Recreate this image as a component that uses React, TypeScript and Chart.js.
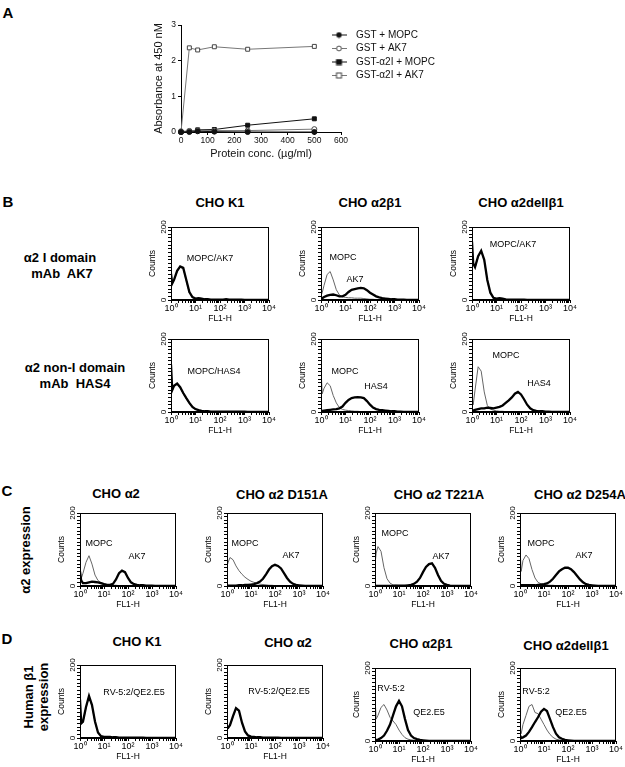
import React, { useEffect, useRef } from 'react';
import { Chart, registerables } from 'chart.js';

Chart.register(...registerables);

const FONT = '"Liberation Sans", Arial, Helvetica, sans-serif';
Chart.defaults.font.family = FONT;
Chart.defaults.color = '#000';

// ---------------- Panel A data ----------------
const A_CONC = [0, 31.25, 62.5, 125, 250, 500];
const A_GST_MOPC = [0.0, 0.0, 0.02, 0.01, 0.0, 0.0];
const A_GST_AK7 = [0.02, 0.03, 0.04, 0.04, 0.04, 0.08];
const A_GSTI_MOPC = [0.0, 0.02, 0.06, 0.07, 0.19, 0.37];
const A_GSTI_AK7 = [0.0, 2.36, 2.3, 2.39, 2.32, 2.4];
const A_SERIES_NAMES = ['GST + MOPC', 'GST + AK7', 'GST-\u03b12I + MOPC', 'GST-\u03b12I + AK7'];
const A_X_TICKS = [0, 100, 200, 300, 400, 500, 600];
const A_Y_TICKS = [0, 1, 2, 3];

// ---------------- Flow cytometry data ----------------
// FL1-H channel positions (log scale)
const FL_CHANNELS = [1, 1.12, 1.33, 1.78, 2.37, 3.16, 4.22, 5.62, 7.5, 10, 13.3, 17.8, 23.7, 31.6, 42.2, 56.2, 75, 100, 133, 178, 237, 316, 422, 562, 750, 1000, 1333, 1778, 2371, 3162, 4217, 5623, 7499, 10000];
const X_DECADES = [1, 10, 100, 1000, 10000];
const X_DECADE_LABELS = ['10\u2070', '10\u00b9', '10\u00b2', '10\u00b3', '10\u2074'];
const X_MINOR_STEPS = [2, 3, 4, 5, 6, 7, 8, 9];
const COUNT_TICKS = [0, 10, 20, 30, 40, 50, 60, 70, 80, 90, 100, 110, 120, 130, 140, 150, 160, 170, 180, 190, 200];
const COUNT_LABELS: Record<number, string> = { 0: '0', 200: '200' };

// Panel B, row 1 (mAb AK7)
const B_K1_AK7 = [72, 45, 55, 80, 92, 88, 55, 22, 8, 4, 5, 4, 2, 2, 1, 1, 1, 1, 1, 2, 1, 1, 1, 1, 1, 0, 0, 0, 0, 0, 0, 0, 0, 0];
const B_K1_MOPC = [70, 44, 54, 78, 90, 86, 52, 20, 7, 4, 5, 4, 2, 1, 1, 1, 1, 1, 1, 1, 1, 1, 1, 0, 0, 0, 0, 0, 0, 0, 0, 0, 0, 0];
const B_A2B1_AK7 = [3, 5, 8, 12, 14, 15, 13, 10, 10, 14, 22, 28, 30, 32, 33, 32, 27, 20, 15, 10, 7, 5, 4, 3, 2, 2, 1, 1, 1, 0, 0, 0, 0, 0];
const B_A2B1_MOPC = [12, 20, 40, 70, 78, 55, 28, 14, 9, 7, 6, 6, 5, 5, 5, 4, 3, 2, 2, 1, 1, 0, 0, 0, 0, 0, 0, 0, 0, 0, 0, 0, 0, 0];
const B_DEL_AK7 = [160, 100, 90, 120, 135, 110, 55, 20, 6, 4, 5, 4, 2, 1, 1, 1, 1, 1, 1, 0, 0, 0, 0, 0, 0, 0, 0, 0, 0, 0, 0, 0, 0, 0];
const B_DEL_MOPC = [158, 98, 88, 118, 133, 108, 52, 18, 5, 3, 4, 3, 2, 1, 1, 1, 0, 0, 0, 0, 0, 0, 0, 0, 0, 0, 0, 0, 0, 0, 0, 0, 0, 0];
// Panel B, row 2 (mAb HAS4)
const B_K1_HAS4 = [130, 60, 72, 78, 68, 52, 38, 25, 14, 8, 5, 3, 2, 2, 1, 1, 1, 1, 1, 1, 1, 1, 1, 1, 1, 1, 0, 0, 0, 0, 0, 0, 0, 0];
const B_K1_MOPC2 = [128, 58, 70, 76, 66, 50, 36, 23, 12, 7, 4, 3, 2, 1, 1, 1, 1, 1, 0, 0, 0, 0, 0, 0, 0, 0, 0, 0, 0, 0, 0, 0, 0, 0];
const B_A2B1_HAS4 = [2, 3, 4, 5, 6, 7, 8, 10, 15, 25, 33, 38, 40, 41, 40, 38, 30, 20, 12, 8, 6, 5, 4, 3, 2, 2, 1, 1, 0, 0, 0, 0, 0, 0];
const B_A2B1_MOPC2 = [120, 50, 65, 80, 72, 45, 25, 12, 7, 5, 4, 3, 2, 2, 1, 1, 0, 0, 0, 0, 0, 0, 0, 0, 0, 0, 0, 0, 0, 0, 0, 0, 0, 0];
const B_DEL_HAS4 = [5, 4, 6, 8, 10, 10, 12, 11, 10, 12, 14, 18, 25, 32, 40, 50, 55, 48, 35, 20, 10, 5, 3, 2, 2, 1, 1, 0, 0, 0, 0, 0, 0, 0];
const B_DEL_MOPC2 = [45, 20, 60, 124, 112, 55, 18, 8, 5, 3, 2, 2, 1, 1, 0, 0, 0, 0, 0, 0, 0, 0, 0, 0, 0, 0, 0, 0, 0, 0, 0, 0, 0, 0];
// Panel C (alpha2 expression, AK7)
const C_A2_AK7 = [40, 15, 8, 8, 10, 12, 11, 10, 8, 5, 3, 3, 6, 18, 35, 42, 38, 22, 10, 5, 3, 2, 2, 1, 1, 1, 0, 0, 0, 0, 0, 0, 0, 0];
const C_A2_MOPC = [35, 20, 35, 65, 83, 60, 30, 15, 9, 6, 4, 3, 2, 2, 1, 1, 0, 0, 0, 0, 0, 0, 0, 0, 0, 0, 0, 0, 0, 0, 0, 0, 0, 0];
const C_D151A_AK7 = [2, 1, 1, 1, 1, 2, 2, 3, 3, 4, 5, 8, 12, 20, 32, 45, 54, 58, 55, 48, 35, 22, 12, 6, 3, 2, 1, 0, 0, 0, 0, 0, 0, 0];
const C_D151A_MOPC = [55, 65, 78, 72, 55, 42, 32, 24, 18, 13, 10, 7, 5, 4, 3, 2, 2, 1, 0, 0, 0, 0, 0, 0, 0, 0, 0, 0, 0, 0, 0, 0, 0, 0];
const C_T221A_AK7 = [1, 0, 0, 0, 0, 0, 0, 0, 1, 1, 1, 1, 2, 3, 6, 12, 22, 38, 52, 60, 62, 50, 30, 14, 6, 3, 1, 0, 0, 0, 0, 0, 0, 0];
const C_T221A_MOPC = [60, 90, 108, 95, 50, 20, 8, 3, 2, 1, 1, 0, 0, 0, 0, 0, 0, 0, 0, 0, 0, 0, 0, 0, 0, 0, 0, 0, 0, 0, 0, 0, 0, 0];
const C_D254A_AK7 = [3, 2, 2, 2, 2, 2, 2, 3, 4, 5, 7, 12, 20, 30, 40, 46, 50, 50, 46, 38, 28, 18, 10, 5, 3, 2, 1, 0, 0, 0, 0, 0, 0, 0];
const C_D254A_MOPC = [105, 40, 70, 85, 75, 45, 22, 10, 6, 4, 3, 2, 2, 1, 1, 0, 0, 0, 0, 0, 0, 0, 0, 0, 0, 0, 0, 0, 0, 0, 0, 0, 0, 0];
// Panel D (human beta1 expression)
const D_K1_QE = [105, 40, 45, 85, 115, 90, 45, 15, 5, 3, 3, 3, 2, 2, 1, 1, 1, 1, 1, 1, 1, 1, 1, 0, 0, 0, 0, 0, 0, 0, 0, 0, 0, 0];
const D_K1_RV = [103, 38, 43, 83, 112, 88, 43, 14, 5, 3, 3, 2, 2, 1, 1, 1, 1, 1, 0, 0, 0, 0, 0, 0, 0, 0, 0, 0, 0, 0, 0, 0, 0, 0];
const D_A2_QE = [30, 28, 35, 60, 82, 75, 42, 18, 7, 4, 3, 2, 2, 1, 1, 1, 1, 1, 1, 0, 0, 0, 0, 0, 0, 0, 0, 0, 0, 0, 0, 0, 0, 0];
const D_A2_RV = [29, 27, 34, 58, 80, 73, 40, 17, 6, 4, 3, 2, 1, 1, 1, 1, 0, 0, 0, 0, 0, 0, 0, 0, 0, 0, 0, 0, 0, 0, 0, 0, 0, 0];
const D_A2B1_QE = [3, 3, 4, 8, 15, 28, 45, 70, 95, 110, 95, 60, 30, 15, 8, 5, 3, 2, 1, 0, 0, 0, 0, 0, 0, 0, 0, 0, 0, 0, 0, 0, 0, 0];
const D_A2B1_RV = [120, 60, 70, 92, 100, 85, 65, 55, 45, 30, 18, 9, 5, 3, 2, 1, 0, 0, 0, 0, 0, 0, 0, 0, 0, 0, 0, 0, 0, 0, 0, 0, 0, 0];
const D_DEL_QE = [15, 8, 10, 15, 25, 38, 52, 65, 80, 88, 82, 60, 38, 20, 10, 6, 3, 2, 1, 0, 0, 0, 0, 0, 0, 0, 0, 0, 0, 0, 0, 0, 0, 0];
const D_DEL_RV = [30, 20, 45, 70, 95, 100, 78, 75, 60, 45, 30, 18, 10, 5, 3, 2, 1, 0, 0, 0, 0, 0, 0, 0, 0, 0, 0, 0, 0, 0, 0, 0, 0, 0];

// ---------------- layout (positions of plot boxes) ----------------
const H_AXIS_W = 26;
const H_AXIS_H = 26;
const H_PAD_T = 8;
const H_PAD_R = 10;
const H_BOX_H = 73;

type Histo = { x: number; y: number; w: number; thick: number[]; thin: number[] };
const HISTOS: Histo[] = [
  { x: 171, y: 227, w: 98, thick: B_K1_AK7, thin: B_K1_MOPC },
  { x: 321, y: 227, w: 98, thick: B_A2B1_AK7, thin: B_A2B1_MOPC },
  { x: 472, y: 227, w: 98, thick: B_DEL_AK7, thin: B_DEL_MOPC },
  { x: 171, y: 339, w: 98, thick: B_K1_HAS4, thin: B_K1_MOPC2 },
  { x: 321, y: 339, w: 98, thick: B_A2B1_HAS4, thin: B_A2B1_MOPC2 },
  { x: 472, y: 339, w: 98, thick: B_DEL_HAS4, thin: B_DEL_MOPC2 },
  { x: 80, y: 513, w: 96, thick: C_A2_AK7, thin: C_A2_MOPC },
  { x: 227, y: 513, w: 96, thick: C_D151A_AK7, thin: C_D151A_MOPC },
  { x: 375, y: 513, w: 96, thick: C_T221A_AK7, thin: C_T221A_MOPC },
  { x: 520, y: 513, w: 96, thick: C_D254A_AK7, thin: C_D254A_MOPC },
  { x: 80, y: 665, w: 96, thick: D_K1_QE, thin: D_K1_RV },
  { x: 227, y: 665, w: 96, thick: D_A2_QE, thin: D_A2_RV },
  { x: 375, y: 668, w: 96, thick: D_A2B1_QE, thin: D_A2B1_RV },
  { x: 520, y: 668, w: 96, thick: D_DEL_QE, thin: D_DEL_RV },
];

type Lbl = { t: string; x: number; y: number; s: number; b?: boolean; r?: boolean };
const LABELS: Lbl[] = [
  { t: 'A', x: 8, y: 12, s: 15, b: true },
  { t: 'B', x: 8, y: 201, s: 15, b: true },
  { t: 'C', x: 7, y: 490, s: 15, b: true },
  { t: 'D', x: 7, y: 638, s: 15, b: true },
  { t: 'CHO K1', x: 220, y: 202, s: 13, b: true },
  { t: 'CHO \u03b12\u03b21', x: 370, y: 202, s: 13, b: true },
  { t: 'CHO \u03b12dell\u03b21', x: 521, y: 202, s: 13, b: true },
  { t: '\u03b12 I domain', x: 60, y: 257, s: 13, b: true },
  { t: 'mAb\u00a0 AK7', x: 62, y: 273, s: 13, b: true },
  { t: '\u03b12 non-I domain', x: 75, y: 367, s: 13, b: true },
  { t: 'mAb\u00a0 HAS4', x: 75, y: 383, s: 13, b: true },
  { t: 'CHO \u03b12', x: 116, y: 493, s: 13, b: true },
  { t: 'CHO \u03b12 D151A', x: 282, y: 494, s: 13, b: true },
  { t: 'CHO \u03b12 T221A', x: 439, y: 494, s: 13, b: true },
  { t: 'CHO \u03b12 D254A', x: 580, y: 494, s: 13, b: true },
  { t: '\u03b12 expression', x: 25, y: 550, s: 13, b: true, r: true },
  { t: 'CHO K1', x: 137, y: 641, s: 13, b: true },
  { t: 'CHO \u03b12', x: 288, y: 642, s: 13, b: true },
  { t: 'CHO \u03b12\u03b21', x: 421, y: 643, s: 13, b: true },
  { t: 'CHO \u03b12dell\u03b21', x: 566, y: 645, s: 13, b: true },
  { t: 'Human \u03b21', x: 28, y: 697, s: 13, b: true, r: true },
  { t: 'expression', x: 43, y: 697, s: 13, b: true, r: true },
  // in-plot annotations
  { t: 'MOPC/AK7', x: 210, y: 258, s: 9 },
  { t: 'MOPC', x: 343, y: 257, s: 9 },
  { t: 'AK7', x: 355, y: 279, s: 9 },
  { t: 'MOPC/AK7', x: 513, y: 244, s: 9 },
  { t: 'MOPC/HAS4', x: 214, y: 371, s: 9 },
  { t: 'MOPC', x: 345, y: 371, s: 9 },
  { t: 'HAS4', x: 376, y: 386, s: 9 },
  { t: 'MOPC', x: 506, y: 355, s: 9 },
  { t: 'HAS4', x: 539, y: 383, s: 9 },
  { t: 'MOPC', x: 99, y: 543, s: 9 },
  { t: 'AK7', x: 137, y: 556, s: 9 },
  { t: 'MOPC', x: 245, y: 543, s: 9 },
  { t: 'AK7', x: 291, y: 555, s: 9 },
  { t: 'MOPC', x: 395, y: 533, s: 9 },
  { t: 'AK7', x: 441, y: 556, s: 9 },
  { t: 'MOPC', x: 541, y: 543, s: 9 },
  { t: 'AK7', x: 584, y: 555, s: 9 },
  { t: 'RV-5:2/QE2.E5', x: 134, y: 692, s: 9 },
  { t: 'RV-5:2/QE2.E5', x: 279, y: 691, s: 9 },
  { t: 'RV-5:2', x: 391, y: 688, s: 9 },
  { t: 'QE2.E5', x: 429, y: 712, s: 9 },
  { t: 'RV-5:2', x: 536, y: 691, s: 9 },
  { t: 'QE2.E5', x: 571, y: 712, s: 9 },
];

// ---------------- plugins ----------------
const framePlugin = {
  id: 'frame',
  afterDatasetsDraw(chart: any) {
    const { ctx, chartArea: a } = chart;
    ctx.save();
    ctx.strokeStyle = '#000';
    ctx.lineWidth = 1;
    ctx.strokeRect(Math.round(a.left) + 0.5, Math.round(a.top) + 0.5, Math.round(a.right - a.left) - 1, Math.round(a.bottom - a.top) - 1);
    ctx.restore();
  },
};

const legendPlacePlugin = {
  id: 'legendPlace',
  afterLayout(chart: any) {
    const lg = chart.legend;
    if (!lg) return;
    const a = chart.chartArea;
    lg.left = a.left + 142.5;
    lg.top = a.top + 1.5;
    lg.width = 130;
    lg.height = 90;
    lg.right = lg.left + 130;
    lg.bottom = lg.top + 90;
  },
};

function legendIcon(shape: string, filled: boolean, line: string, edge: string) {
  const c = document.createElement('canvas');
  c.width = 15;
  c.height = 7;
  const g = c.getContext('2d')!;
  g.strokeStyle = line;
  g.lineWidth = 1;
  g.beginPath();
  g.moveTo(0, 3.5);
  g.lineTo(15, 3.5);
  g.stroke();
  g.fillStyle = filled ? edge : '#fff';
  g.strokeStyle = edge;
  if (shape === 'circle') {
    g.beginPath();
    g.arc(7.5, 3.5, 2.4, 0, Math.PI * 2);
    g.fill();
    g.stroke();
  } else {
    g.fillRect(5, 1, 5, 5);
    g.strokeRect(5, 1, 5, 5);
  }
  return c;
}

const axisCommon = {
  grid: { drawOnChartArea: false, drawTicks: true, tickLength: 3, color: '#000', lineWidth: 1 },
  border: { color: '#000', width: 1 },
};

function assayConfig() {
  const styles = [
    { shape: 'circle', filled: true, line: '#111', edge: '#111', r: 2.5 },
    { shape: 'circle', filled: false, line: '#777', edge: '#444', r: 2.5 },
    { shape: 'rect', filled: true, line: '#111', edge: '#111', r: 2.8 },
    { shape: 'rect', filled: false, line: '#777', edge: '#444', r: 2.8 },
  ];
  const values = [A_GST_MOPC, A_GST_AK7, A_GSTI_MOPC, A_GSTI_AK7];
  const icons = styles.map((s) => legendIcon(s.shape, s.filled, s.line, s.edge));
  return {
    type: 'line',
    data: {
      datasets: values.map((vals, i) => ({
        label: A_SERIES_NAMES[i],
        data: A_CONC.map((x, j) => ({ x, y: vals[j] })),
        borderColor: styles[i].line,
        borderWidth: 1,
        pointStyle: styles[i].shape,
        pointRadius: styles[i].r,
        pointBackgroundColor: styles[i].filled ? styles[i].edge : '#fff',
        pointBorderColor: styles[i].edge,
        pointBorderWidth: 1,
        tension: 0,
        clip: false,
      })),
    },
    options: {
      responsive: false,
      animation: false,
      events: [],
      layout: { padding: { left: 22, top: 10, right: 109, bottom: 0 } },
      plugins: {
        tooltip: { enabled: false },
        legend: {
          position: 'chartArea',
          align: 'start',
          labels: {
            usePointStyle: true,
            pointStyleWidth: 24,
            padding: 3.5,
            font: { size: 10, family: FONT },
            color: '#111',
            generateLabels: (chart: any) =>
              chart.data.datasets.map((ds: any, i: number) => ({
                text: ds.label,
                pointStyle: icons[i],
                fillStyle: '#fff',
                strokeStyle: '#fff',
                lineWidth: 0,
                hidden: false,
                datasetIndex: i,
                fontColor: '#111',
              })),
          },
        },
      },
      scales: {
        x: {
          type: 'linear',
          min: 0,
          max: 600,
          afterBuildTicks: (s: any) => {
            s.ticks = A_X_TICKS.map((v) => ({ value: v }));
          },
          afterFit: (s: any) => {
            s.height = 33;
            s.paddingLeft = 0;
            s.paddingRight = 0;
          },
          ticks: { autoSkip: false, maxRotation: 0, padding: 1, font: { size: 8.5 }, color: '#111' },
          ...axisCommon,
          title: { display: true, text: 'Protein conc. (\u00b5g/ml)', font: { size: 11 }, color: '#111', padding: { top: 0, bottom: 4 } },
        },
        y: {
          type: 'linear',
          min: 0,
          max: 3,
          afterBuildTicks: (s: any) => {
            s.ticks = A_Y_TICKS.map((v) => ({ value: v }));
          },
          afterFit: (s: any) => {
            s.width = 29;
            s.paddingTop = 0;
            s.paddingBottom = 0;
          },
          ticks: { autoSkip: false, padding: 2, font: { size: 8.5 }, color: '#111' },
          ...axisCommon,
          title: { display: true, text: 'Absorbance at 450 nM', font: { size: 11 }, color: '#111', padding: { top: 0, bottom: 0 } },
        },
      },
    },
    plugins: [legendPlacePlugin],
  };
}

function xTickValues() {
  const out: number[] = [];
  X_DECADES.forEach((d, i) => {
    out.push(d);
    if (i < X_DECADES.length - 1) X_MINOR_STEPS.forEach((m) => out.push(d * m));
  });
  return out;
}

function histoConfig(thick: number[], thin: number[]) {
  return {
    type: 'line',
    data: {
      datasets: [
        { data: FL_CHANNELS.map((x, i) => ({ x, y: thick[i] })), borderColor: '#000', borderWidth: 2.3, pointRadius: 0, tension: 0 },
        { data: FL_CHANNELS.map((x, i) => ({ x, y: thin[i] })), borderColor: '#666', borderWidth: 1, pointRadius: 0, tension: 0 },
      ],
    },
    options: {
      responsive: false,
      animation: false,
      events: [],
      layout: { padding: { left: 0, top: H_PAD_T, right: H_PAD_R, bottom: 0 } },
      plugins: { legend: { display: false }, tooltip: { enabled: false } },
      scales: {
        x: {
          type: 'logarithmic',
          min: 1,
          max: 10000,
          afterBuildTicks: (s: any) => {
            s.ticks = xTickValues().map((v) => ({ value: v }));
          },
          afterFit: (s: any) => {
            s.height = H_AXIS_H;
            s.paddingLeft = 0;
            s.paddingRight = 0;
          },
          ticks: {
            autoSkip: false,
            maxRotation: 0,
            minRotation: 0,
            padding: 0,
            font: { size: 9 },
            color: '#000',
            callback: (v: any) => {
              const k = X_DECADES.indexOf(Number(v));
              return k >= 0 ? X_DECADE_LABELS[k] : '';
            },
          },
          ...axisCommon,
          title: { display: true, text: 'FL1-H', font: { size: 8.5 }, color: '#000', padding: { top: 0, bottom: 2 } },
        },
        y: {
          type: 'linear',
          min: 0,
          max: 200,
          afterBuildTicks: (s: any) => {
            s.ticks = COUNT_TICKS.map((v) => ({ value: v }));
          },
          afterFit: (s: any) => {
            s.width = H_AXIS_W;
            s.paddingTop = 0;
            s.paddingBottom = 0;
          },
          ticks: {
            autoSkip: false,
            minRotation: 90,
            maxRotation: 90,
            crossAlign: 'center',
            padding: -2,
            font: { size: 8 },
            color: '#000',
            callback: (v: any) => COUNT_LABELS[Number(v)] ?? '',
          },
          ...axisCommon,
          title: { display: true, text: 'Counts', font: { size: 8.5 }, color: '#000', padding: { top: 3, bottom: 0 } },
        },
      },
    },
    plugins: [framePlugin],
  };
}

function ChartCanvas({ x, y, w, h, make }: { x: number; y: number; w: number; h: number; make: () => any }) {
  const ref = useRef<HTMLCanvasElement>(null);
  useEffect(() => {
    const chart = new Chart(ref.current as HTMLCanvasElement, make());
    return () => chart.destroy();
  }, []);
  return <canvas ref={ref} width={w} height={h} style={{ position: 'absolute', left: x, top: y, width: w, height: h }} />;
}

function Text({ l }: { l: Lbl }) {
  return (
    <div
      style={{
        position: 'absolute',
        left: l.x,
        top: l.y,
        transform: `translate(-50%, -50%)${l.r ? ' rotate(-90deg)' : ''}`,
        fontSize: l.s,
        fontWeight: l.b ? 700 : 400,
        whiteSpace: 'nowrap',
        lineHeight: 1,
        fontFamily: FONT,
        color: '#000',
      }}
    >
      {l.t}
    </div>
  );
}

export default function App() {
  return (
    <div style={{ position: 'absolute', left: 0, top: 0, width: 625, height: 767, background: '#fff', overflow: 'hidden' }}>
      <ChartCanvas x={130} y={15} w={320} h={150} make={assayConfig} />
      {HISTOS.map((hh, i) => (
        <ChartCanvas
          key={i}
          x={hh.x - H_AXIS_W}
          y={hh.y - H_PAD_T}
          w={H_AXIS_W + hh.w + H_PAD_R}
          h={H_PAD_T + H_BOX_H + H_AXIS_H}
          make={() => histoConfig(hh.thick, hh.thin)}
        />
      ))}
      {LABELS.map((l, i) => (
        <Text key={i} l={l} />
      ))}
    </div>
  );
}
